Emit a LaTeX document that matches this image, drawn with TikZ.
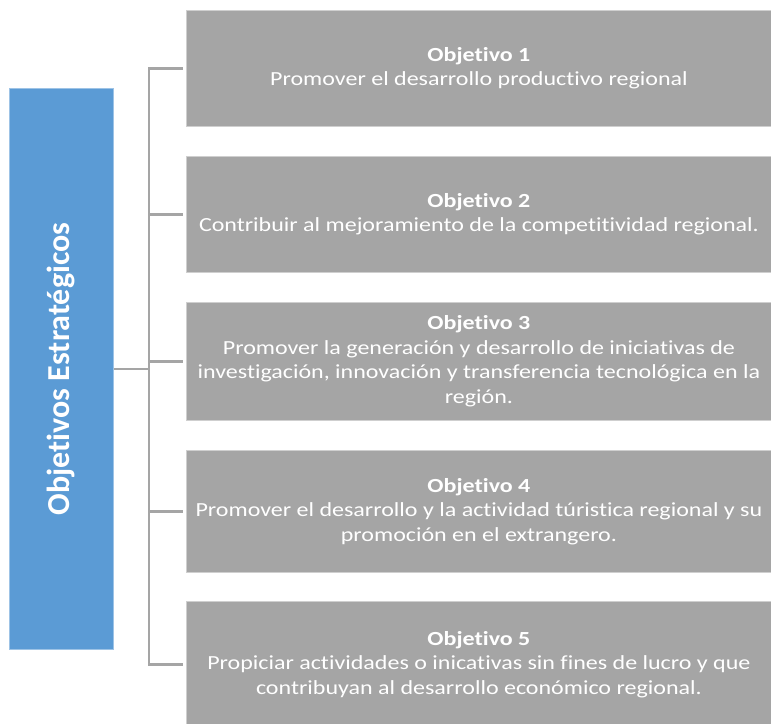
\documentclass[tikz,border=0pt]{standalone}
\usepackage{fontspec}
\setmainfont{Carlito}[RawFeature=-liga]
\newfontfamily\bodyfont{Carlito}[FakeStretch=1.2, RawFeature=-liga]
\definecolor{hdrblue}{HTML}{5B9BD5}
\definecolor{hdredge}{HTML}{9DC3E6}
\definecolor{boxgray}{HTML}{A5A5A5}
\definecolor{boxedge}{HTML}{CFCFCF}
\definecolor{linegray}{HTML}{A5A5A5}
\tikzset{
  objbox/.style={rectangle, fill=boxgray, draw=boxedge, line width=0.8pt,
    anchor=north west, minimum width=585pt, inner sep=0pt, text=white,
    align=center, font=\bodyfont\fontsize{20}{24.5}\selectfont},
  hdrbox/.style={rectangle, fill=hdrblue, draw=hdredge, line width=0.8pt,
    anchor=north west, minimum width=104.5pt, minimum height=561pt, inner sep=0pt},
  hdrtext/.style={rotate=90, text=white, font=\fontsize{32}{38}\selectfont\bfseries},
  link/.style={draw=linegray, line width=2.6pt}
}
\begin{document}
\begin{tikzpicture}[x=1pt,y=-1pt]
\useasboundingbox (0,0) rectangle (771,723);
\node[hdrbox] (hdr) at (8.5,88) {};
\node[hdrtext] (hdrlabel) at (hdr.center) {Objetivos Estratégicos};
\node[objbox, minimum height=116pt] (o1) at (186,10) {\textbf{Objetivo 1}\\Promover el desarrollo productivo regional};
\node[objbox, minimum height=116pt] (o2) at (186,156) {\textbf{Objetivo 2}\\Contribuir al mejoramiento de la competitividad regional.};
\node[objbox, minimum height=118pt] (o3) at (186,302) {\textbf{Objetivo 3}\\Promover la generación y desarrollo de iniciativas de\\investigación, innovación y transferencia tecnológica en la\\región.};
\node[objbox, minimum height=122pt] (o4) at (186,450) {\textbf{Objetivo 4}\\Promover el desarrollo y la actividad túristica regional y su\\promoción en el extrangero.};
\node[objbox, minimum height=126pt] (o5) at (186,601) {\textbf{Objetivo 5}\\Propiciar actividades o inicativas sin fines de lucro y que\\contribuyan al desarrollo económico regional.};
\coordinate (jn) at (149,369);
\draw[link] (hdr.east |- jn) -- (jn);
\draw[link, line join=miter] (o1.west) ++(-3,0) -- (jn |- o1.west) -- (jn |- o5.west) -- ([xshift=-3pt]o5.west);
\foreach \n in {o2,o3,o4} {
  \draw[link] (jn |- \n.west) -- ([xshift=-3pt]\n.west);
}
\end{tikzpicture}
\end{document}
